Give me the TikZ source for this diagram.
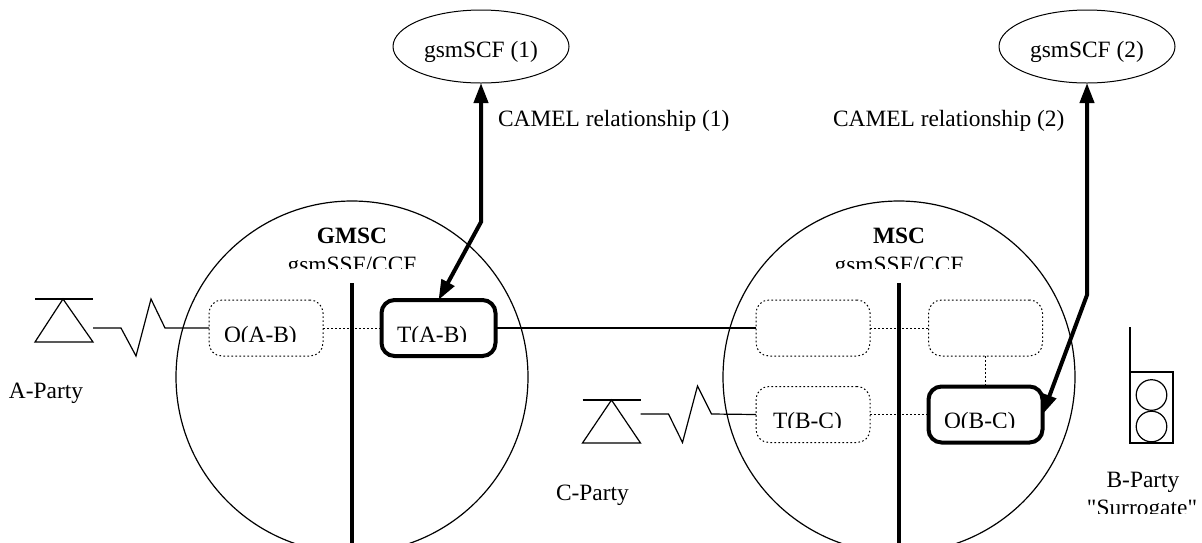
\documentclass[tikz,border=0pt]{standalone}
\usepackage{fontspec}
\setmainfont{Liberation Serif}[Ligatures=TeXOff]
\usetikzlibrary{arrows.meta,shapes.geometric}
\begin{document}
\begin{tikzpicture}[x=1pt,y=-1pt,
  every node/.style={font=\fontsize{23.4}{28}\selectfont, inner sep=0pt, outer sep=0pt},
  thinline/.style={line width=1.2pt},
  unitbox/.style={draw, rectangle, rounded corners=13pt, minimum width=114pt, minimum height=56pt},
  dotbox/.style={unitbox, line width=1pt, dash pattern=on 1.6pt off 2.4pt},
  boldbox/.style={unitbox, line width=4pt},
  dotline/.style={line width=1pt, dash pattern=on 1.6pt off 2.4pt},
  divider/.style={line width=4pt},
  centre/.style={draw, circle, minimum size=352pt, line width=1.2pt},
  scf/.style={draw, ellipse, minimum width=176pt, minimum height=73pt, line width=1pt},
  camel/.style={line width=4pt, {Triangle[length=20pt,width=14pt]}-{Triangle[length=20pt,width=14pt]}},
  lbl/.style={anchor=base},
  lblw/.style={anchor=base west}
]
\useasboundingbox (0,0) rectangle (1202,542);
\clip (0,0) rectangle (1202,542);

% switching centres
\node[centre] (gmsc) at (352,377) {};
\node[centre] (msc) at (899,377) {};
\draw[divider] (352,283) -- (352,545);
\draw[divider] (899,283) -- (899,545);

\node[lbl] (gmsct) at (352,243) {\bfseries GMSC};
\node[lbl] (msct) at (899,243) {\bfseries MSC};
\begin{scope}
  \clip (200,245) rectangle (1000,268);
  \node[lbl] (gssf1) at (352,272.5) {gsmSSF/CCF};
  \node[lbl] (gssf2) at (899,272.5) {gsmSSF/CCF};
\end{scope}

% call segment boxes
\node[dotbox]  (oab) at (266,328) {};
\node[boldbox] (tab) at (438.5,328) {};
\node[dotbox]  (mtl) at (813,328) {};
\node[dotbox]  (mtr) at (985.5,328) {};
\node[dotbox]  (tbc) at (813,414.5) {};
\node[boldbox] (obc) at (985.5,414.5) {};

\begin{scope}
  \clip (150,300) rectangle (1100,341);
  \node[lblw] (oabt) at (224,342) {O(A-B)};
  \node[lblw] (tabt) at (397,342) {T(A-B)};
\end{scope}
\begin{scope}
  \clip (700,390) rectangle (1100,427);
  \node[lblw] (tbct) at (773,428.5) {T(B-C)};
  \node[lblw] (obct) at (944,428.5) {O(B-C)};
\end{scope}

% links between boxes
\draw[dotline] (oab.east) -- (tab.west);
\draw[thinline] (tab.east) -- (mtl.west);
\draw[dotline] (mtl.east) -- (mtr.west);
\draw[dotline] (mtr.south) -- (obc.north);
\draw[dotline] (tbc.east) -- (obc.west);

% A-Party terminal
\draw[thinline] (35,299) -- (93,299);
\draw[thinline] (63,299) -- (35,342) -- (93,342) -- cycle;
\coordinate (aant) at (93,328);
\draw[thinline] (aant) -- ++(28,0) -- ++(15,28) -- ++(15,-57) -- ++(14,29) -- (oab.west);
\node[lblw] (aparty) at (9,398.5) {A-Party};

% C-Party terminal
\draw[thinline] (582.5,400) -- (640.5,400);
\draw[thinline] (611.5,400) -- (582.5,443) -- (640.5,443) -- cycle;
\coordinate (cant) at (640.5,414);
\draw[thinline] (cant) -- ++(28,0) -- ++(14,28.5) -- ++(15,-56.5) -- ++(14,28) -- (tbc.west);
\node[lblw] (cparty) at (556,500) {C-Party};

% B-Party terminal
\draw[thinline] (1130,327) -- (1130,372);
\draw[thinline] (1130,372) rectangle (1173,443);
\draw[thinline] (1151.5,395) circle[radius=15.3];
\draw[thinline] (1151.5,426.5) circle[radius=15.3];
\node[lbl] (bparty) at (1143,487) {B-Party};
\begin{scope}
  \clip (1070,495) rectangle (1202,513);
  \node[lbl] (surr) at (1142,515.5) {"Surrogate"};
\end{scope}

% service control functions
\node[scf] (scf1) at (481,46.5) {};
\node[scf] (scf2) at (1087,46.5) {};
\node[lbl] (scf1t) at (481,57) {gsmSCF (1)};
\node[lbl] (scf2t) at (1087,57) {gsmSCF (2)};

\coordinate (bend1) at (481,222);
\coordinate (bend2) at (1087,295);
\draw[camel] (scf1.south) -- (bend1) -- (tab.north);
\draw[camel] (scf2.south) -- (bend2) -- (obc.east);

\node[lblw] (rel1) at (498,126) {CAMEL relationship (1)};
\node[lblw] (rel2) at (833,126) {CAMEL relationship (2)};
\end{tikzpicture}
\end{document}
